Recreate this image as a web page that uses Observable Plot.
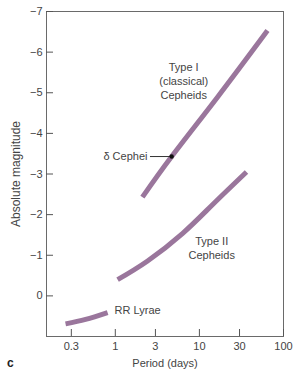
<!DOCTYPE html>
<html>
<head>
<meta charset="utf-8">
<script src="https://cdn.jsdelivr.net/npm/d3@7"></script>
<script src="https://cdn.jsdelivr.net/npm/@observablehq/plot@0.6"></script>
<style>
  html, body { margin: 0; padding: 0; background: #fff; }
  #wrap { position: relative; width: 301px; height: 387px; font-family: "Liberation Sans", Arial, sans-serif; }
  #panel { position: absolute; left: 7px; top: 356px; font-size: 12px; font-weight: bold; color: #222; }
</style>
</head>
<body>
<div id="wrap"><div id="panel">c</div></div>
<script>
// Period (days) and absolute magnitude
const typeIPeriod = [2.10, 4.68, 16.4, 64.5];
const typeIMag = [-2.43, -3.43, -4.89, -6.53];

const typeIIPeriod = [1.065, 2.42, 6.33, 14.4, 36.3];
const typeIIMag = [-0.40, -0.86, -1.54, -2.25, -3.05];

const rrPeriod = [0.256, 0.443, 0.81];
const rrMag = [0.69, 0.58, 0.41];

const deltaCephei = {period: 4.68, mag: -3.43, labelPeriod: 2.62};

const xTicks = [0.3, 1, 3, 10, 30, 100];
const xTickLabels = ["0.3", "1", "3", "10", "30", "100"];
const yTicks = [-7, -6, -5, -4, -3, -2, -1, 0];
const yAxisLabel = "Absolute magnitude";
const xAxisLabel = "Period (days)";

const centerLabels = [
  {text: "Type I\n(classical)\nCepheids", period: 6.5, mag: -5.30},
  {text: "Type II\nCepheids", period: 14.0, mag: -1.20}
];
const startLabels = [
  {text: "RR Lyrae", period: 0.98, mag: 0.36}
];

const series = [
  {name: "Type I", P: typeIPeriod, M: typeIMag},
  {name: "Type II", P: typeIIPeriod, M: typeIIMag},
  {name: "RR Lyrae", P: rrPeriod, M: rrMag}
];
const rows = series.flatMap(s => s.P.map((p, i) => ({series: s.name, period: p, mag: s.M[i]})));

const W = 301, H = 387, mL = 46, mR = 18, mT = 11, mB = 51;
const curveColor = "#9a769c";
const textColor = "#444";

const chart = Plot.plot({
  width: W,
  height: H,
  marginLeft: mL,
  marginRight: mR,
  marginTop: mT,
  marginBottom: mB,
  style: {fontFamily: "'Liberation Sans', Arial, sans-serif", fontSize: "11px", color: textColor, background: "transparent"},
  x: {type: "log", domain: [0.152, 100]},
  y: {domain: [1, -7]},
  marks: [
    Plot.frame({stroke: "#6a6a6a", strokeWidth: 1}),
    Plot.axisX({ticks: xTicks, tickFormat: d => xTickLabels[xTicks.indexOf(d)], tickSize: 0, tickPadding: 6, fontSize: 11, label: xAxisLabel, labelAnchor: "center", labelOffset: 30, labelArrow: "none", fill: textColor}),
    Plot.axisY({ticks: yTicks, tickSize: 0, tickPadding: 4, fontSize: 11, label: null, fill: textColor}),
    Plot.text([yAxisLabel], {text: d => d, frameAnchor: "left", textAnchor: "middle", rotate: -90, dx: -30, fontSize: 12, fill: textColor}),
    Plot.tickX(xTicks, {x: d => d, insetTop: H - mT - mB - 7, stroke: "#555"}),
    Plot.tickY(yTicks, {y: d => d, insetRight: W - mL - mR - 7, stroke: "#555"}),
    Plot.line(rows, {x: "period", y: "mag", z: "series", stroke: curveColor, strokeWidth: 5, strokeLinecap: "butt", curve: "natural"}),
    Plot.ruleY([deltaCephei], {y: "mag", x1: "labelPeriod", x2: "period", stroke: "#333", strokeWidth: 1}),
    Plot.dot([deltaCephei], {x: "period", y: "mag", r: 2.2, fill: "#111"}),
    Plot.text([deltaCephei], {x: "labelPeriod", y: "mag", text: () => "δ Cephei", textAnchor: "end", dx: -3, fill: textColor, fontSize: 11}),
    Plot.text(centerLabels, {x: "period", y: "mag", text: "text", textAnchor: "middle", lineHeight: 1.27, fill: textColor, fontSize: 11}),
    Plot.text(startLabels, {x: "period", y: "mag", text: "text", textAnchor: "start", fill: textColor, fontSize: 11})
  ]
});
document.getElementById("wrap").prepend(chart);
</script>
</body>
</html>
